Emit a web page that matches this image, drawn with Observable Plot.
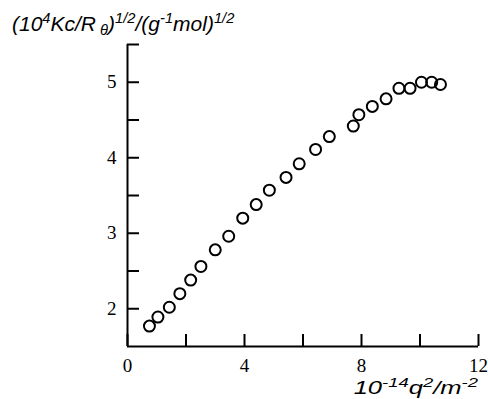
<!DOCTYPE html>
<html>
<head>
<meta charset="utf-8">
<script src="https://cdn.jsdelivr.net/npm/d3@7"></script>
<script src="https://cdn.jsdelivr.net/npm/@observablehq/plot@0.6"></script>
<style>
  html, body { margin: 0; padding: 0; background: #fff; }
  #chart svg { display: block; }
</style>
</head>
<body>
<div id="chart"></div>
<script>
// Zimm-type plot: (10^4 Kc/Rθ)^1/2 against 10^-14 q^2
const q2 = [0.75, 1.04, 1.43, 1.79, 2.16, 2.51, 3.00, 3.46, 3.94, 4.40, 4.85, 5.42,
            5.87, 6.43, 6.90, 7.72, 7.91, 8.37, 8.84, 9.28, 9.66, 10.05, 10.40, 10.70];
const kcr = [1.77, 1.89, 2.02, 2.20, 2.38, 2.56, 2.78, 2.96, 3.20, 3.38, 3.57, 3.74,
             3.92, 4.11, 4.28, 4.42, 4.57, 4.68, 4.78, 4.92, 4.92, 5.00, 5.00, 4.97];
const xTicks = [0, 2, 4, 6, 8, 10, 12];
const xTickLabels = ["0", "", "4", "", "8", "", "12"];
const yTicks = [2, 2.5, 3, 3.5, 4, 4.5, 5, 5.5];
const yTickLabels = ["2", "", "3", "", "4", "", "5", ""];

const points = q2.map((x, i) => ({x, y: kcr[i]}));

const serif = "Liberation Serif, Times New Roman, serif";
const sans = "Liberation Sans, Arial, sans-serif";

const chart = Plot.plot({
  width: 488,
  height: 399,
  marginLeft: 127,
  marginRight: 10,
  marginTop: 44,
  marginBottom: 53,
  style: {color: "#000", background: "#fff"},
  x: {domain: [0, 12]},
  y: {domain: [1.5, 5.5]},
  marks: [
    Plot.ruleY([1.5], {stroke: "#000", strokeWidth: 2}),
    Plot.ruleX([0], {stroke: "#000", strokeWidth: 2}),
    Plot.axisX({
      ticks: xTicks,
      tickSize: -12,
      tickPadding: 24,
      strokeWidth: 2,
      tickFormat: (d) => xTickLabels[xTicks.indexOf(d)],
      label: null
    }),
    Plot.axisY({
      ticks: yTicks,
      tickSize: -12,
      tickPadding: 23,
      strokeWidth: 2,
      tickFormat: (d) => yTickLabels[yTicks.indexOf(d)],
      label: null
    }),
    Plot.dot(points, {x: "x", y: "y", r: 5.5, stroke: "#000", strokeWidth: 2, fill: "none"})
  ]
});

const svg = d3.select(chart);

// Serif numerals on both axes
svg.selectAll("[aria-label*='axis'] text, [aria-label*='axis'] tspan, [aria-label*='axis']")
  .style("font-family", serif)
  .style("font-size", "19px")
  .style("fill", "#000");

// Axis titles with super/subscripts
const titleG = svg.append("g").attr("transform", "translate(12,31) scale(1.05,1)");
const title = titleG.append("text")
  .attr("x", 0).attr("y", 0).attr("text-anchor", "start")
  .style("font-family", sans).style("font-style", "italic").style("font-size", "20px")
  .attr("fill", "#000");
title.append("tspan").text("(10");
title.append("tspan").text("4").style("font-size", "14px").attr("dy", -8);
title.append("tspan").text("Kc/R").attr("dy", 8);
title.append("tspan").text(" θ").style("font-size", "14px").attr("dy", 4);
title.append("tspan").text(")").attr("dy", -4);
title.append("tspan").text("1/2").style("font-size", "14px").attr("dy", -8);
title.append("tspan").text("/(g").attr("dy", 8);
title.append("tspan").text("-1").style("font-size", "14px").attr("dy", -8);
title.append("tspan").text("mol)").attr("dy", 8);
title.append("tspan").text("1/2").style("font-size", "14px").attr("dy", -8);

const xlG = svg.append("g").attr("transform", "translate(478,394) scale(1.42,1)");
const xl = xlG.append("text")
  .attr("x", 0).attr("y", 0).attr("text-anchor", "end")
  .style("font-family", sans).style("font-style", "italic").style("font-size", "18px")
  .attr("fill", "#000");
xl.append("tspan").text("10");
xl.append("tspan").text("-14").style("font-size", "13px").attr("dy", -7);
xl.append("tspan").text("q").attr("dy", 7);
xl.append("tspan").text("2").style("font-size", "13px").attr("dy", -7);
xl.append("tspan").text("/m").attr("dy", 7);
xl.append("tspan").text("-2").style("font-size", "13px").attr("dy", -7);

document.getElementById("chart").appendChild(chart);
</script>
</body>
</html>
